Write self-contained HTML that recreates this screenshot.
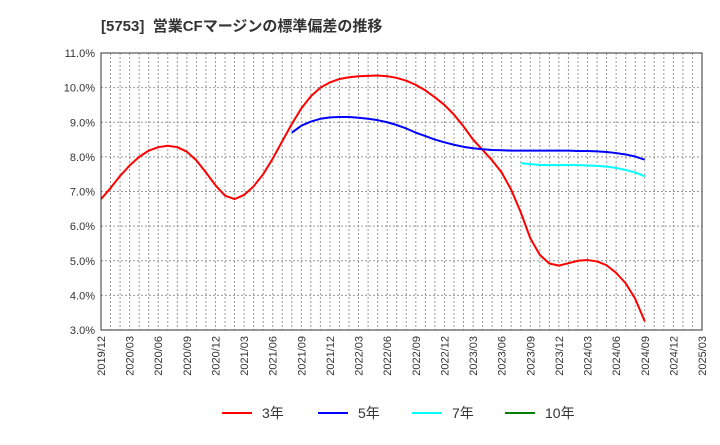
<!DOCTYPE html>
<html><head><meta charset="utf-8"><style>
body{margin:0;background:#fff;font-family:"Liberation Sans","Noto Sans CJK JP",sans-serif}
</style></head><body>
<svg width="720" height="440" viewBox="0 0 720 440" xmlns="http://www.w3.org/2000/svg">
<text x="101" y="31" font-size="15" font-weight="bold" fill="#333">[5753]&#160; 営業CFマージンの標準偏差の推移</text>
<g id="grid"></g>
<g id="series"></g>
<rect x="101" y="53" width="601" height="277" fill="none" stroke="#333" stroke-width="1"/>
<g id="axes" font-size="11" fill="#333"></g>
<g id="legend" font-size="14" fill="#333"></g>
</svg>
<script>
const yTicks=[3,4,5,6,7,8,9,10,11];
const xTickLabels=["2019/12","2020/03","2020/06","2020/09","2020/12","2021/03","2021/06","2021/09","2021/12","2022/03","2022/06","2022/09","2022/12","2023/03","2023/06","2023/09","2023/12","2024/03","2024/06","2024/09","2024/12","2025/03"];
const s3=[6.78,7.1,7.45,7.75,8.0,8.18,8.28,8.32,8.28,8.15,7.9,7.55,7.18,6.88,6.78,6.9,7.15,7.5,7.95,8.45,8.95,9.4,9.75,10.0,10.15,10.25,10.3,10.33,10.34,10.35,10.33,10.28,10.2,10.08,9.92,9.72,9.5,9.22,8.88,8.5,8.2,7.9,7.55,7.05,6.4,5.65,5.17,4.92,4.86,4.93,5.0,5.02,4.98,4.87,4.65,4.35,3.9,3.25];
const s3Start=0;
const s5=[8.7,8.9,9.02,9.1,9.14,9.15,9.15,9.13,9.1,9.06,9.0,8.92,8.82,8.7,8.6,8.5,8.42,8.35,8.29,8.25,8.22,8.2,8.19,8.18,8.18,8.18,8.18,8.18,8.18,8.18,8.17,8.17,8.16,8.14,8.11,8.07,8.01,7.92];
const s5Start=20;
const s7=[7.82,7.79,7.77,7.76,7.76,7.76,7.76,7.75,7.74,7.72,7.68,7.62,7.55,7.44];
const s7Start=44;
const ns="http://www.w3.org/2000/svg";
const L=101,R=702,T=53,B=330,N=63;
const xS=i=>L+(R-L)*i/N;
const yS=v=>B-(v-3)/8*(B-T);
function mk(t,a,p){const e=document.createElementNS(ns,t);for(const k in a)e.setAttribute(k,a[k]);p.appendChild(e);return e;}
const grid=document.getElementById('grid');
for(let i=1;i<N;i++){const l=mk('line',{x1:xS(i),x2:xS(i),y1:T,y2:B,stroke:'#999','stroke-dasharray':'2,2'},grid);

}
yTicks.forEach(v=>{const l=mk('line',{x1:L,x2:R,y1:yS(v),y2:yS(v),stroke:'#999','stroke-dasharray':'2,2'},grid);

});
const axes=document.getElementById('axes');
yTicks.forEach(v=>{const t=mk('text',{x:L-6,y:yS(v)+4,'text-anchor':'end'},axes);t.textContent=v.toFixed(1)+'%';

});
xTickLabels.forEach((s,i)=>{const x=xS(i*3);const t=mk('text',{x:x+4,y:336,'text-anchor':'end',transform:`rotate(-90 ${x+4} 336)`},axes);t.textContent=s;

});
const ser=document.getElementById('series');
function line(arr,start,col,name){const p=mk('polyline',{points:arr.map((v,i)=>xS(start+i)+','+yS(v)).join(' '),fill:'none',stroke:col,'stroke-width':2,'stroke-linejoin':'round'},ser);

}
line(s3,s3Start,'#ff0000','series-3y');
line(s5,s5Start,'#0000ff','series-5y');
line(s7,s7Start,'#00ffff','series-7y');
const lg=document.getElementById('legend');
[['3年','#ff0000',222],['5年','#0000ff',318],['7年','#00ffff',412],['10年','#008000',505]].forEach(([n,c,x])=>{
const g=mk('g',{},lg);


mk('line',{x1:x,x2:x+30,y1:413,y2:413,stroke:c,'stroke-width':2},g);
const t=mk('text',{x:x+40,y:418},g);t.textContent=n;});
</script>
</body></html>
